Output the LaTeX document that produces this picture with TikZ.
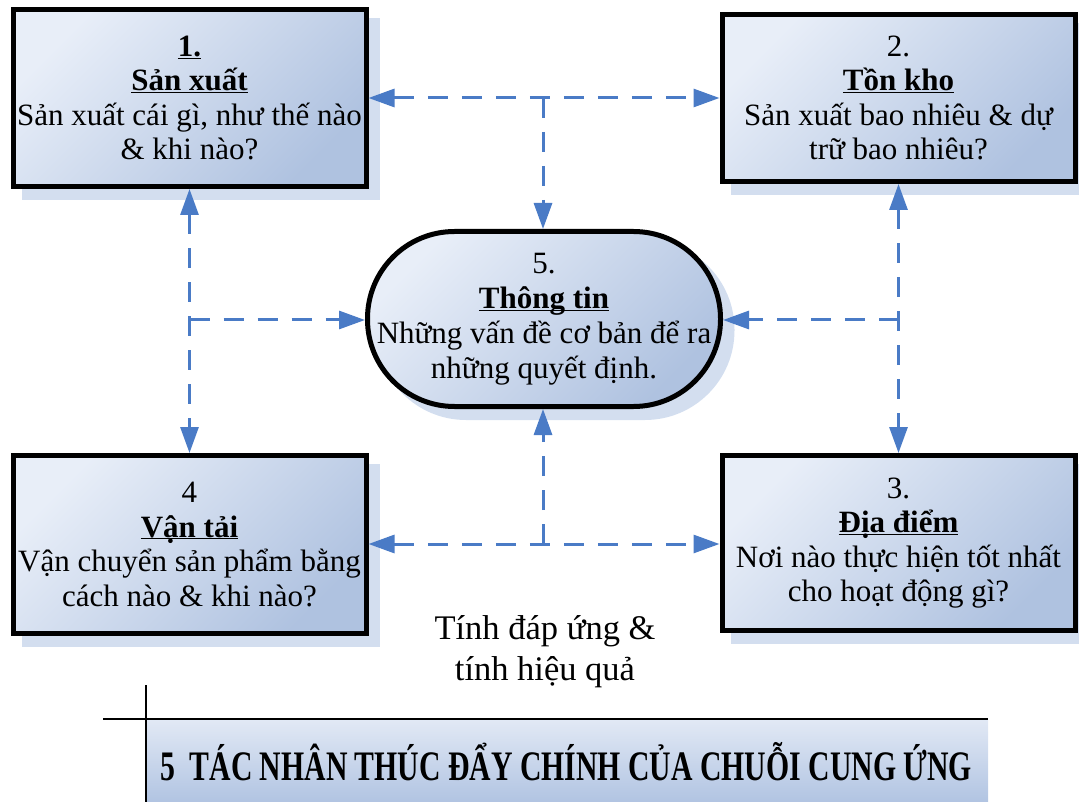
\documentclass[tikz,border=0pt]{standalone}
\usepackage{fontspec}
\usepackage{graphicx}
\setmainfont{Liberation Serif}
\usetikzlibrary{arrows.meta,shadows}
\definecolor{boxlight}{HTML}{E8EEF8}
\definecolor{boxdark}{HTML}{AFC2E0}
\definecolor{shcol}{HTML}{D3DEEF}
\definecolor{arrblue}{HTML}{4A7BC6}
\definecolor{bandtop}{HTML}{E2E9F5}
\definecolor{bandbot}{HTML}{B1C4E2}
\newcommand\myul[1]{\underline{\smash{#1}}}
\tikzset{
  boxbase/.style={draw=black, line width=5pt,
    top color=boxlight, bottom color=boxdark, shading angle=45,
    drop shadow={shadow xshift=11.5pt, shadow yshift=-11pt, fill=shcol, draw=shcol, line width=5pt, opacity=1},
    align=center, inner sep=0pt,
    font={\fontsize{31}{34.5}\selectfont}},
  sqbox/.style={boxbase, rectangle, minimum width=353pt},
  stadium/.style={boxbase, rectangle, rounded corners=87pt, minimum width=353pt, minimum height=175pt,
    font={\fontsize{31}{35}\selectfont}},
  arr/.style={draw=arrblue, line width=3pt, dash pattern=on 20pt off 14pt,
    -{Triangle[length=26pt,width=18pt]}},
  darr/.style={arr, {Triangle[length=26pt,width=18pt]}-{Triangle[length=26pt,width=18pt]}}
}
\begin{document}
\begin{tikzpicture}[x=1pt,y=-1pt]
\useasboundingbox (0,0) rectangle (1079,802);
% bottom band
\shade[top color=bandtop, bottom color=bandbot] (146,719) rectangle (988,802);
\draw[line width=1.5pt] (103,719) -- (988,719);
\draw[line width=1.5pt] (146,685) -- (146,802);
\node (title) at (566,762) {\resizebox{812pt}{\height}{\fontsize{42}{42}\selectfont\bfseries 5\ \ TÁC NHÂN THÚC ĐẨY CHÍNH CỦA CHUỖI CUNG ỨNG}};
% boxes
\node[sqbox, minimum height=177pt] (b1) at (189.5,98) {\underline{\textbf{1.}}\\ \myul{\textbf{Sản xuất}}\\ Sản xuất cái gì, như thế nào\\ \& khi nào?};
\node[sqbox, minimum height=167pt] (b2) at (898.5,98) {2.\\ \myul{\textbf{Tồn kho}}\\ Sản xuất bao nhiêu \& dự\\ trữ bao nhiêu?};
\node[sqbox, minimum height=175pt] (b3) at (898.5,543) {3.\\ \myul{\textbf{Địa điểm}}\\ Nơi nào thực hiện tốt nhất\\ cho hoạt động gì?};
\node[sqbox, minimum height=178pt] (b4) at (189.5,544.5) {4\\ \myul{\textbf{Vận tải}}\\ Vận chuyển sản phẩm bằng\\ cách nào \& khi nào?};
\node[stadium] (s) at (544,319) {5.\\ \myul{\textbf{Thông tin}}\\ Những vấn đề cơ bản để ra\\ những quyết định.};
\node[align=center, font={\fontsize{34.5}{41}\selectfont}] (note) at (545,652) {Tính đáp ứng \&\\ tính hiệu quả};
% junctions
\coordinate (jt) at (543,98);
\coordinate (jb) at (543,544);
\coordinate (jl) at (189.5,320);
\coordinate (jr) at (898.5,320);
% connectors
\draw[darr] (b1.east |- jt) -- (b2.west |- jt);
\draw[arr] (jt) -- (s.north -| jt);
\draw[darr] (b4.east |- jb) -- (b3.west |- jb);
\draw[arr] (jb) -- (s.south -| jb);
\draw[darr] (b1.south) -- (b4.north);
\draw[arr] (jl) -- (s.west |- jl);
\draw[darr] (b2.south) -- (b3.north);
\draw[arr] (jr) -- (s.east |- jr);
\end{tikzpicture}
\end{document}
